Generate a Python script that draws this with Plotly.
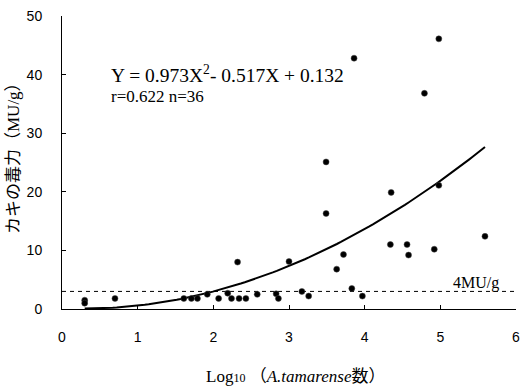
import plotly.graph_objects as go

# Scatter data: log10(A. tamarense count) vs oyster toxicity (MU/g)
log_counts = [0.30, 0.30, 0.70, 1.61, 1.71, 1.79, 1.92, 2.07, 2.19, 2.24, 2.32, 2.34,
              2.43, 2.58, 2.83, 2.86, 3.00, 3.17, 3.26, 3.49, 3.49, 3.63, 3.72, 3.83,
              3.86, 3.97, 4.35, 4.34, 4.56, 4.58, 4.79, 4.92, 4.98, 4.98, 5.59]
toxicity = [1.5, 1.0, 1.8, 1.8, 1.8, 1.8, 2.5, 1.8, 2.7, 1.8, 8.0, 1.8,
            1.8, 2.5, 2.6, 1.8, 8.1, 3.0, 2.2, 25.1, 16.3, 6.8, 9.3, 3.5,
            42.8, 2.2, 19.9, 11.0, 11.0, 9.2, 36.8, 10.2, 46.1, 21.1, 12.4]

# Regression coefficients as printed: Y = a X^2 + b X + c
coef_a, coef_b, coef_c = 0.973, -0.517, 0.132
fit_x_range = [0.30, 5.59]
threshold = [3.0]
x_ticks = [0, 1, 2, 3, 4, 5, 6]
y_ticks = [0, 10, 20, 30, 40, 50]

n_steps = 100
fit_x = [fit_x_range[0] + (fit_x_range[1] - fit_x_range[0]) * i / n_steps for i in range(n_steps + 1)]
fit_y = [coef_a * x * x + coef_b * x + coef_c for x in fit_x]

fig = go.Figure()
fig.add_trace(go.Scatter(x=[0, 6], y=threshold * 2, mode="lines",
                         line=dict(color="black", width=1, dash="4px,4px"),
                         hoverinfo="skip", showlegend=False))
fig.add_trace(go.Scatter(x=fit_x, y=fit_y, mode="lines",
                         line=dict(color="black", width=2), showlegend=False))
fig.add_trace(go.Scatter(x=log_counts, y=toxicity, mode="markers",
                         marker=dict(color="black", size=6,
                                     line=dict(color="#444", width=0.5)),
                         showlegend=False))

serif = "Liberation Serif, Times New Roman, Noto Sans CJK JP"
sans = "Liberation Sans, Arial, sans-serif"

W, H = 522, 387
ML, MR, MT, MB = 62, 6, 16, 78

fig.update_layout(
    width=W, height=H,
    margin=dict(l=ML, r=MR, t=MT, b=MB),
    paper_bgcolor="white", plot_bgcolor="white",
    xaxis=dict(range=[0, 6], tickvals=x_ticks, showline=True, linecolor="black",
               linewidth=1, ticks="inside", ticklen=4, tickcolor="black",
               showgrid=False, zeroline=False, ticklabelstandoff=15,
               automargin=False, ticklabeloverflow="allow",
               tickfont=dict(family=sans, size=14, color="black")),
    yaxis=dict(range=[0, 50], tickvals=y_ticks, showline=True, linecolor="black",
               linewidth=1, ticks="inside", ticklen=4, tickcolor="black",
               showgrid=False, zeroline=False, ticklabelstandoff=16,
               automargin=False, ticklabeloverflow="allow",
               tickfont=dict(family=sans, size=14, color="black")),
    annotations=[
        dict(x=0.62, y=40.1, xref="x", yref="y", xanchor="left", yanchor="middle",
             text="Y = 0.973X<sup>2</sup>- 0.517X + 0.132", showarrow=False,
             font=dict(family=serif, size=19.5, color="black")),
        dict(x=0.62, y=36.2, xref="x", yref="y", xanchor="left", yanchor="middle",
             text="r=0.622 n=36", showarrow=False,
             font=dict(family=serif, size=17, color="black")),
        dict(x=5.47, y=4.4, xref="x", yref="y", xanchor="center", yanchor="middle",
             text="4MU/g", showarrow=False,
             font=dict(family=serif, size=16, color="black")),
    ],
)

plot_w = W - ML - MR
plot_h = H - MT - MB


def px_to_paper(px_x, px_y):
    return (px_x - ML) / plot_w, (H - px_y - MB) / plot_h


tx, ty = px_to_paper(295, 376)
fig.add_annotation(x=tx, y=ty, xref="paper", yref="paper", showarrow=False,
                   text="Log<span style='font-size:12px'>10</span> （<i>A.tamarense</i>数）",
                   font=dict(family=serif, size=17, color="black"),
                   xanchor="center", yanchor="middle")
tx, ty = px_to_paper(13, 154)
fig.add_annotation(x=tx, y=ty, xref="paper", yref="paper", showarrow=False,
                   textangle=-90, text="カキの毒力（MU/g）",
                   font=dict(family=serif, size=17, color="black"),
                   xanchor="center", yanchor="middle")

fig.write_html("out.html", config={"displayModeBar": False},
               post_script="document.body.style.margin='0';")
